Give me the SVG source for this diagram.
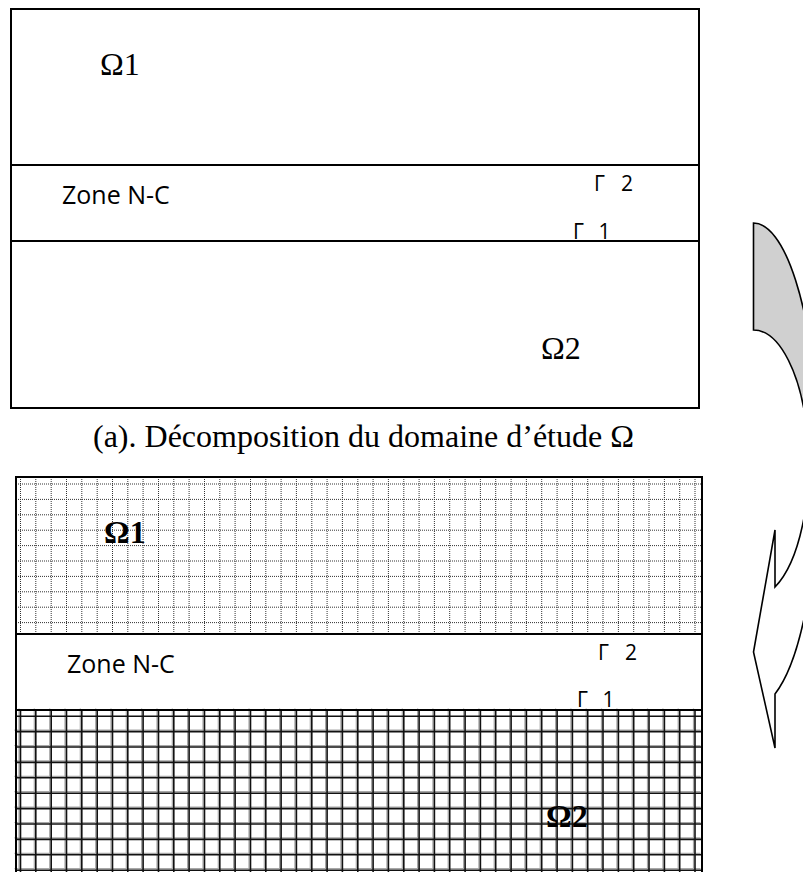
<svg xmlns="http://www.w3.org/2000/svg" width="803" height="872" viewBox="0 0 803 872">
  <style>
    .frame { fill: none; stroke: #000; stroke-width: 2; }
    .serif { font-family: "Liberation Serif", "Times New Roman", serif; font-size: 32px; fill: #000; }
    .bold { font-weight: bold; }
    .sans { font-family: "Open Sans", "Liberation Sans", sans-serif; fill: #000; }
    .zone { font-size: 25px; }
    .gamma { font-size: 21px; }
    .dot { fill: none; stroke: #333; stroke-width: 1; stroke-dasharray: 1 1; }
    .grid { fill: none; stroke: #111; stroke-width: 1.6; }
    .grid-shade { fill: none; stroke: #a8a8a8; stroke-width: 1.2; }
    .arrow-line { fill: none; stroke: #000; stroke-width: 1.6; stroke-linejoin: miter; }
  </style>

  <!-- (a) domain split into Ω1 / transition zone / Ω2 -->
  <g id="domain-a">
    <rect class="frame" x="11" y="9" width="688" height="399"/>
    <line class="frame" x1="11" y1="165" x2="699" y2="165"/>
    <line class="frame" x1="11" y1="241" x2="699" y2="241"/>
    <text class="serif" x="100" y="75">Ω1</text>
    <text class="sans zone" x="62" y="204">Zone N-C</text>
    <text class="sans gamma" x="594" y="191">Γ <tspan x="621">2</tspan></text>
    <text class="sans gamma" x="573" y="239">Γ <tspan x="598.5">1</tspan></text>
    <text class="serif" x="541" y="359">Ω2</text>
  </g>

  <g id="caption">
    <text class="serif" x="93" y="447">(a). Décomposition du domaine d’étude Ω</text>
  </g>

  <!-- (b) same domain, each subdomain meshed -->
  <g id="domain-b">
    <!-- fine dotted mesh over Ω1 -->
    <path class="dot" d="M20.5,477V634M35.8,477V634M51.2,477V634M66.5,477V634M81.8,477V634M97.2,477V634M112.5,477V634M127.8,477V634M143.1,477V634M158.5,477V634M173.8,477V634M189.1,477V634M204.5,477V634M219.8,477V634M235.1,477V634M250.5,477V634M265.8,477V634M281.1,477V634M296.4,477V634M311.8,477V634M327.1,477V634M342.4,477V634M357.8,477V634M373.1,477V634M388.4,477V634M403.8,477V634M419.1,477V634M434.4,477V634M449.7,477V634M465.1,477V634M480.4,477V634M495.7,477V634M511.1,477V634M526.4,477V634M541.7,477V634M557.1,477V634M572.4,477V634M587.7,477V634M603,477V634M618.4,477V634M633.7,477V634M649,477V634M664.4,477V634M679.7,477V634M695,477V634"/>
    <path class="dot" d="M16,484H702M16,499.4H702M16,514.8H702M16,530.2H702M16,545.6H702M16,561H702M16,576.4H702M16,591.8H702M16,607.2H702M16,622.6H702"/>

    <!-- solid mesh over Ω2 -->
    <g transform="translate(-1.5,-1.5)">
      <path class="grid-shade" d="M20.5,710V872M35.8,710V872M51.2,710V872M66.5,710V872M81.8,710V872M97.2,710V872M112.5,710V872M127.8,710V872M143.1,710V872M158.5,710V872M173.8,710V872M189.1,710V872M204.5,710V872M219.8,710V872M235.1,710V872M250.5,710V872M265.8,710V872M281.1,710V872M296.4,710V872M311.8,710V872M327.1,710V872M342.4,710V872M357.8,710V872M373.1,710V872M388.4,710V872M403.8,710V872M419.1,710V872M434.4,710V872M449.7,710V872M465.1,710V872M480.4,710V872M495.7,710V872M511.1,710V872M526.4,710V872M541.7,710V872M557.1,710V872M572.4,710V872M587.7,710V872M603,710V872M618.4,710V872M633.7,710V872M649,710V872M664.4,710V872M679.7,710V872M695,710V872"/>
      <path class="grid-shade" d="M16,731.6H702M16,747H702M16,762.4H702M16,777.8H702M16,793.2H702M16,808.6H702M16,824H702M16,839.4H702M16,854.8H702M16,870.2H702"/>
    </g>
    <path class="grid" d="M20.5,710V872M35.8,710V872M51.2,710V872M66.5,710V872M81.8,710V872M97.2,710V872M112.5,710V872M127.8,710V872M143.1,710V872M158.5,710V872M173.8,710V872M189.1,710V872M204.5,710V872M219.8,710V872M235.1,710V872M250.5,710V872M265.8,710V872M281.1,710V872M296.4,710V872M311.8,710V872M327.1,710V872M342.4,710V872M357.8,710V872M373.1,710V872M388.4,710V872M403.8,710V872M419.1,710V872M434.4,710V872M449.7,710V872M465.1,710V872M480.4,710V872M495.7,710V872M511.1,710V872M526.4,710V872M541.7,710V872M557.1,710V872M572.4,710V872M587.7,710V872M603,710V872M618.4,710V872M633.7,710V872M649,710V872M664.4,710V872M679.7,710V872M695,710V872"/>
    <path class="grid" d="M16,716.2H702M16,731.6H702M16,747H702M16,762.4H702M16,777.8H702M16,793.2H702M16,808.6H702M16,824H702M16,839.4H702M16,854.8H702M16,870.2H702"/>

    <rect class="frame" x="16" y="477" width="686" height="399"/>
    <line class="frame" x1="16" y1="634" x2="702" y2="634"/>
    <line class="frame" x1="16" y1="710" x2="702" y2="710"/>

    <text class="serif bold" x="104" y="543">Ω1</text>
    <text class="sans zone" x="67" y="673">Zone N-C</text>
    <text class="sans gamma" x="598" y="660">Γ <tspan x="625">2</tspan></text>
    <text class="sans gamma" x="577" y="707">Γ <tspan x="602.5">1</tspan></text>
    <text class="serif bold" x="546" y="827">Ω2</text>
  </g>

  <!-- curved arrow leading from (a) down to (b) -->
  <g id="arrow">
    <path fill="#fff" d="M753.5,223 L753.5,330 A55.2,133.8 0 0 1 775,587 L775,530 L753.5,652 L775,748 L775,694 A65.3,242.3 0 0 0 753.5,223 Z"/>
    <path fill="#d0d0d0" d="M753.5,223 A65.3,242.3 0 0 1 818.8,465.3 L808.7,463.8 A55.2,133.8 0 0 0 753.5,330 Z"/>
    <path class="arrow-line" d="M753.5,223 L753.5,330 A55.2,133.8 0 0 1 775,587 L775,530 L753.5,652 L775,748 L775,694 A65.3,242.3 0 0 0 753.5,223 Z"/>
  </g>
</svg>
